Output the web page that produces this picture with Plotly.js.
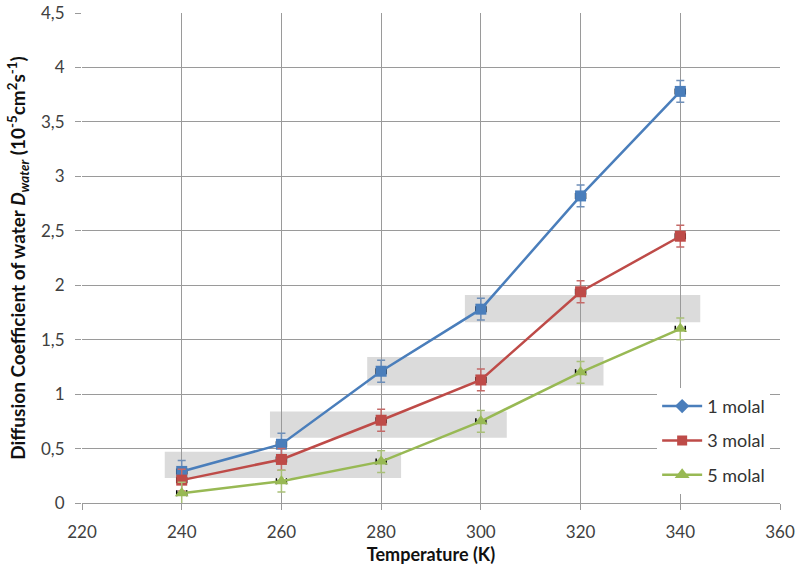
<!DOCTYPE html>
<html>
<head>
<meta charset="utf-8">
<script src="https://cdn.plot.ly/plotly-3.0.1.min.js"></script>
<style>html,body{margin:0;padding:0;background:#fff;}#chart{width:800px;height:578px;}</style>
</head>
<body>
<div id="chart"></div>
<script>
// Data
var temperature = [240, 260, 280, 300, 320, 340];
var seriesNames = ['1 molal', '3 molal', '5 molal'];
var d1molal = [0.29, 0.54, 1.21, 1.78, 2.82, 3.78];
var d3molal = [0.21, 0.40, 0.76, 1.13, 1.94, 2.45];
var d5molal = [0.09, 0.20, 0.38, 0.75, 1.20, 1.60];
var errY1 = [0.10, 0.10, 0.10, 0.10, 0.10, 0.10];
var errY3 = [0.10, 0.10, 0.10, 0.10, 0.10, 0.10];
var errY5 = [0.10, 0.10, 0.10, 0.10, 0.10, 0.10];
var errX = [1, 1, 1, 1, 1, 1];
// shaded bands (temperature range, D range)
var bandX0 = [236.6, 257.7, 277.2, 296.8];
var bandX1 = [284.0, 305.2, 324.6, 344.0];
var bandY0 = [0.23, 0.60, 1.08, 1.66];
var bandY1 = [0.47, 0.84, 1.34, 1.91];
var xTicks = [220, 240, 260, 280, 300, 320, 340, 360];
var yTicks = [0, 0.5, 1, 1.5, 2, 2.5, 3, 3.5, 4, 4.5];

var colors = ['#4a7ebb', '#be4b48', '#98b954'];
var errColors = ['#6f8fb8', '#c46a68', '#a9c078'];
var plotSymbols = ['square', 'square', 'triangle-up'];
var legendSymbols = ['diamond', 'square', 'triangle-up'];
var plotSizes = [11, 11, 12];
var legendSizes = [11, 10, 13];
var ys = [d1molal, d3molal, d5molal];
var errs = [errY1, errY3, errY5];

var traces = [];
for (var i = 0; i < 3; i++) {
  traces.push({
    x: temperature, y: ys[i], type: 'scatter', mode: 'lines+markers',
    name: seriesNames[i], showlegend: false,
    line: {color: colors[i], width: 2.5},
    marker: {color: colors[i], symbol: plotSymbols[i], size: plotSizes[i]},
    error_y: {type: 'data', array: errs[i], visible: true, color: errColors[i], thickness: 1.5, width: 4},
    error_x: {type: 'data', array: errX, visible: true, color: '#000', thickness: 1.5, width: 3}
  });
}
for (var j = 0; j < 3; j++) {
  traces.push({
    x: [null], y: [null], type: 'scatter', mode: 'lines+markers',
    name: seriesNames[j], legendgroup: 'g' + j, showlegend: true,
    line: {color: colors[j], width: 2.5},
    marker: {color: colors[j], symbol: legendSymbols[j], size: legendSizes[j]}
  });
}

var shapes = [];
for (var k = 0; k < bandX0.length; k++) {
  shapes.push({type: 'rect', xref: 'x', yref: 'y', layer: 'below',
    x0: bandX0[k], x1: bandX1[k], y0: bandY0[k], y1: bandY1[k],
    fillcolor: '#cfcfcf', opacity: 0.75, line: {width: 0}});
}

var font = 'Lato, "Open Sans", sans-serif';
var layout = {
  width: 800, height: 578,
  margin: {l: 82, r: 20, t: 13, b: 75},
  paper_bgcolor: '#fff', plot_bgcolor: '#fff',
  separators: ',.',
  font: {family: font, size: 17, color: '#404040'},
  shapes: shapes,
  showlegend: true,
  legend: {x: 0.824, y: 0.235, xanchor: 'left', yanchor: 'top', bgcolor: '#fff',
    font: {family: font, size: 18, color: '#333'}, tracegroupgap: 8, itemwidth: 40},
  xaxis: {
    range: [220, 360], tickvals: xTicks, ticktext: xTicks.map(String),
    showgrid: true, gridcolor: '#9a9a9a', gridwidth: 1,
    showline: true, linecolor: '#9a9a9a', linewidth: 1, zeroline: false,
    ticks: 'outside', ticklen: 6, tickcolor: '#9a9a9a', ticklabelstandoff: 8,
    tickfont: {family: font, size: 17, color: '#404040'},
    title: {text: '<b>Temperature (K)</b>', font: {family: font, size: 18, color: '#111'}, standoff: 6}
  },
  yaxis: {
    range: [0, 4.5], tickvals: yTicks,
    showgrid: true, gridcolor: '#9a9a9a', gridwidth: 1,
    showline: false, zeroline: false,
    ticks: 'outside', ticklen: 6, tickcolor: '#9a9a9a', ticklabelstandoff: 7,
    tickfont: {family: font, size: 17, color: '#404040'},
    title: {text: '<b>Diffusion Coefficient of water <i>D</i><sub><i>water</i></sub> (10<sup>-5</sup>cm<sup>2</sup>s<sup>-1</sup>)</b>', font: {family: font, size: 19, color: '#111'}, standoff: 10}
  }
};

Plotly.newPlot('chart', traces, layout, {displayModeBar: false, responsive: false});
</script>
</body>
</html>
